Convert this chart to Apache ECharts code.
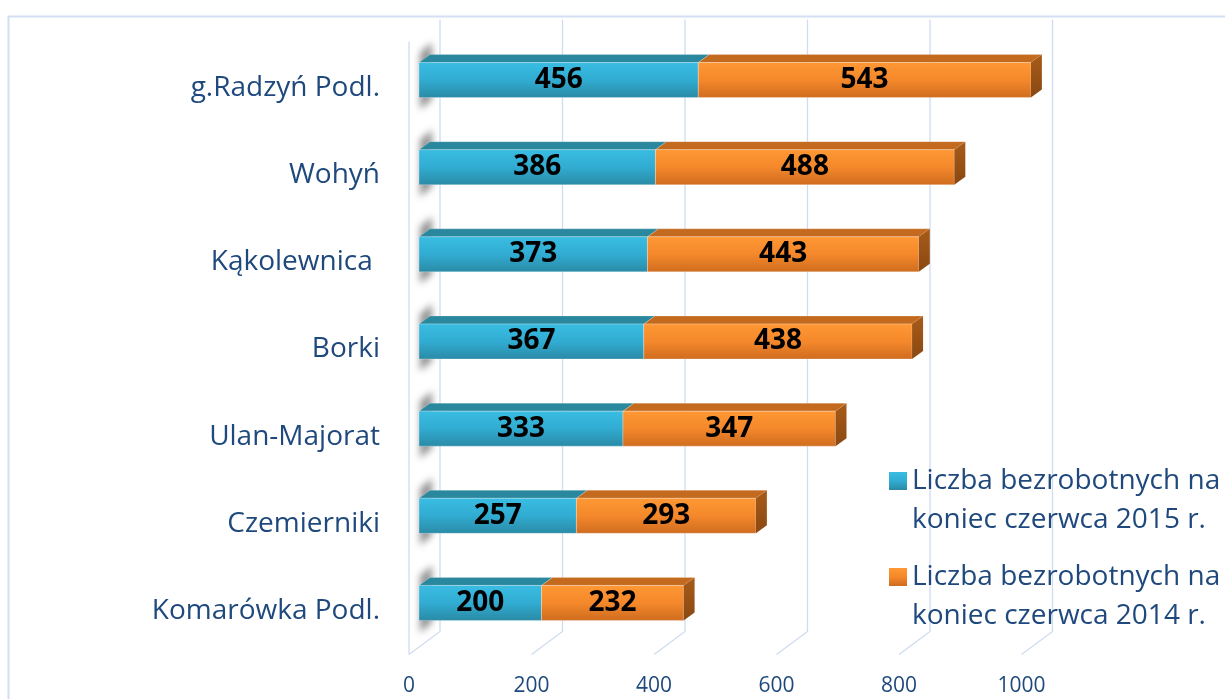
<!DOCTYPE html>
<html><head><meta charset="utf-8">
<script src="https://cdn.jsdelivr.net/npm/echarts@6/dist/echarts.min.js"></script>
<style>html,body{margin:0;padding:0;background:#fff}#c{width:1225px;height:699px}</style>
</head><body><div id="c"></div>
<script>
// ---- data ----
const categories = ['g.Radzyń Podl.', 'Wohyń', 'Kąkolewnica ', 'Borki', 'Ulan-Majorat', 'Czemierniki', 'Komarówka Podl.'];
const values2015 = [456, 386, 373, 367, 333, 257, 200];
const values2014 = [543, 488, 443, 438, 347, 293, 232];
const seriesNames = ['Liczba bezrobotnych na\nkoniec czerwca 2015 r.', 'Liczba bezrobotnych na\nkoniec czerwca 2014 r.'];
const xTicks = [0, 200, 400, 600, 800, 1000];

// ---- styles ----
const TEXT = '#1F497D';
const GRID = '#cfdcf0';
const BAR_DX = 11, BAR_DY = 8, BAR_H = 35, BAR_SHIFT = -8;
const FLOOR_FRONT = -10, FLOOR_BACK = 21, FLOOR_DY = 23;

function lg(stops) {
  return new echarts.graphic.LinearGradient(0, 0, 0, 1, stops.map((c, i) => ({offset: i / (stops.length - 1), color: c})));
}
const looks = [
  {front: ['#3abde3', '#31acd2', '#2a8aa5'], top: '#2a889e', side: ['#217184', '#1b5e6e']},
  {front: ['#ff9834', '#f4882b', '#cf6c1f'], top: '#c46a1f', side: ['#a85b18', '#8a4812']}
];

function barRender(k, isFirst, isLast) {
  return function (params, api) {
    const s = api.value(0), e = api.value(1), ci = api.value(2), val = api.value(3);
    const p0 = api.coord([s, ci]), p1 = api.coord([e, ci]);
    const cy = p0[1] + BAR_SHIFT;
    const x0 = p0[0], x1 = p1[0], yT = cy - BAR_H / 2, yB = cy + BAR_H / 2;
    const L = looks[k];
    const children = [];
    if (isFirst) {
      // soft shadow cast on the left wall (blurred via offset shadow)
      const OFF = 3000;
      children.push({type: 'polygon', silent: true,
        shape: {points: [[x0 + 1 - OFF, yT - 10], [x0 + BAR_DX + 2 - OFF, yT - BAR_DY - 12], [x0 + BAR_DX + 2 - OFF, yB - BAR_DY + 10], [x0 + 1 - OFF, yB + 12]]},
        style: {fill: '#000', shadowColor: 'rgba(0,0,0,0.42)', shadowBlur: 7, shadowOffsetX: OFF, shadowOffsetY: 0}});
    }
    children.push(
      {type: 'polygon', shape: {points: [[x0, yT], [x1, yT], [x1 + BAR_DX, yT - BAR_DY], [x0 + BAR_DX, yT - BAR_DY]]},
       style: {fill: L.top, stroke: 'rgba(255,255,255,0.25)', lineWidth: 0.8}},
      {type: 'rect', shape: {x: x0, y: yT, width: x1 - x0, height: BAR_H},
       style: {fill: lg(L.front), stroke: 'rgba(255,255,255,0.35)', lineWidth: 0.8},
       textContent: {style: {text: String(val), fontFamily: 'Open Sans', fontWeight: 'bold', fontSize: 28, fill: '#000'}},
       textConfig: {position: 'inside'}}
    );
    if (isLast) {
      children.push({type: 'polygon', shape: {points: [[x1, yT], [x1 + BAR_DX, yT - BAR_DY], [x1 + BAR_DX, yB - BAR_DY], [x1, yB]]},
        style: {fill: new echarts.graphic.LinearGradient(0, 0, 0, 1, [{offset: 0, color: L.side[0]}, {offset: 1, color: L.side[1]}])}});
    }
    return {type: 'group', children};
  };
}

function gridRender(params, api) {
  const v = api.value(0);
  const cs = params.coordSys;
  const x = api.coord([v, 0])[0];
  const top = cs.y, bottom = cs.y + cs.height;
  const fx = x + FLOOR_FRONT, bx = x + FLOOR_BACK;
  const st = {stroke: GRID, lineWidth: 1.3, fill: null};
  const children = [{type: 'polyline', shape: {points: [[bx, top - 25], [bx, bottom - FLOOR_DY], [fx, bottom]]}, style: st}];
  if (v === xTicks[0]) children.push({type: 'line', shape: {x1: fx, y1: top - 3, x2: fx, y2: bottom}, style: st});
  return {type: 'group', children};
}

const data2015 = values2015.map((v, i) => [0, v, i, v]);
const data2014 = values2014.map((v, i) => [values2015[i], values2015[i] + v, i, v]);

const legendBase = {
  orient: 'vertical', left: 889, padding: 0,
  itemWidth: 18, itemHeight: 18, icon: 'rect', selectedMode: false,
  formatter: name => '\n' + name,
  textStyle: {fontFamily: 'Open Sans', fontSize: 28, color: TEXT, lineHeight: 39}
};

const chart = echarts.init(document.getElementById('c'), null, {renderer: 'canvas'});
chart.setOption({
  animation: false,
  backgroundColor: '#fff',
  grid: {left: 419, top: 44.5, width: 612.5, height: 610},
  xAxis: {
    type: 'value', min: 0, max: 1000, interval: 200,
    axisLine: {show: false}, axisTick: {show: false}, splitLine: {show: false},
    axisLabel: {margin: 21, fontSize: 21, lineHeight: 21, fontFamily: 'Open Sans', color: TEXT, padding: [0, 20, 0, 0],
      formatter: v => String(v)}
  },
  yAxis: {
    type: 'category', inverse: true, data: categories,
    axisLine: {show: false}, axisTick: {show: false}, splitLine: {show: false},
    axisLabel: {margin: 39, fontSize: 28, fontFamily: 'Open Sans', color: TEXT}
  },
  legend: [
    Object.assign({}, legendBase, {top: 422.5, data: [seriesNames[0]]}),
    Object.assign({}, legendBase, {top: 518.5, data: [seriesNames[1]]})
  ],
  graphic: [{type: 'rect', left: 6, top: 14, silent: true, z: -10,
    shape: {width: 1400, height: 900}, style: {fill: null, stroke: '#d4e0f2', lineWidth: 2}}],
  series: [
    {type: 'custom', name: 'grid3d', silent: true, clip: false, z: 1,
     data: xTicks.map(v => [v, 0]), encode: {x: 0, y: 1}, renderItem: gridRender},
    {type: 'custom', name: seriesNames[0], clip: false, z: 3,
     itemStyle: {color: lg(looks[0].front)},
     data: data2015, encode: {x: [0, 1], y: 2}, renderItem: barRender(0, true, false)},
    {type: 'custom', name: seriesNames[1], clip: false, z: 3,
     itemStyle: {color: lg(looks[1].front)},
     data: data2014, encode: {x: [0, 1], y: 2}, renderItem: barRender(1, false, true)}
  ]
});
</script>
</body></html>
